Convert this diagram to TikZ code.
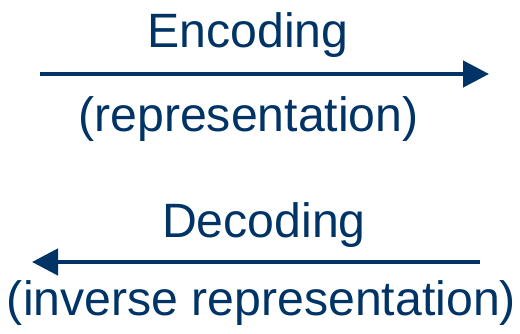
\documentclass[tikz,border=0pt]{standalone}
\usepackage{fontspec}
\setmainfont{Liberation Sans}
\usetikzlibrary{arrows.meta}
\definecolor{navy}{RGB}{0,51,102}
\begin{document}
\begin{tikzpicture}[x=1pt,y=-1pt,
  lbl/.style={anchor=base,inner sep=0pt,text=navy,font=\fontsize{48.2}{58}\selectfont},
  conn/.style={draw=navy,line width=4.6pt,-{Triangle[length=26pt,width=26pt]}}]
\useasboundingbox (0,0) rectangle (520,334);
\node[lbl] (enc) at (248,48) {Encoding};
\node[lbl] (rep) at (248.5,132) {(representation)};
\node[lbl] (dec) at (264,237) {Decoding};
\node[lbl] (inv) at (261.5,315) {(inverse representation)};
\coordinate (e1) at (40,74);
\coordinate (e2) at (489,74);
\coordinate (d1) at (480,262);
\coordinate (d2) at (32,262);
\draw[conn] (e1) -- (e2);
\draw[conn] (d1) -- (d2);
\end{tikzpicture}
\end{document}
